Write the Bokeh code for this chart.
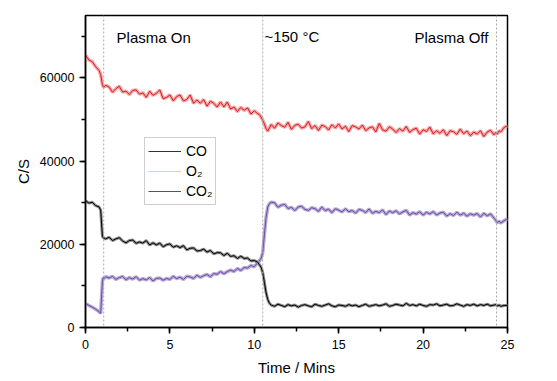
from bokeh.plotting import figure
from bokeh.models import (Range1d, SingleIntervalTicker, Span, Label, Legend,
                          LegendItem, ColumnDataSource)
from bokeh.embed import file_html
from bokeh.resources import INLINE

# ---------------- data ----------------
time_min = [0.0, 0.2, 0.4, 0.6, 0.8, 0.9, 1.0, 1.05, 1.1, 1.2,
            1.4, 1.6, 1.8, 2.0, 2.2, 2.4, 2.6, 2.8, 3.0, 3.2,
            3.4, 3.6, 3.8, 4.0, 4.2, 4.4, 4.6, 4.8, 5.0, 5.2,
            5.4, 5.6, 5.8, 6.0, 6.2, 6.4, 6.6, 6.8, 7.0, 7.2,
            7.4, 7.6, 7.8, 8.0, 8.2, 8.4, 8.6, 8.8, 9.0, 9.2,
            9.4, 9.6, 9.8, 10.0, 10.2,
            10.3, 10.4, 10.5, 10.6, 10.7, 10.8, 10.9, 11.0,
            11.2, 11.4, 11.6, 11.8, 12.0, 12.2, 12.4, 12.6, 12.8, 13.0,
            13.2, 13.4, 13.6, 13.8, 14.0, 14.2, 14.4, 14.6, 14.8, 15.0,
            15.2, 15.4, 15.6, 15.8, 16.0, 16.2, 16.4, 16.6, 16.8, 17.0,
            17.2, 17.4, 17.6, 17.8, 18.0, 18.2, 18.4, 18.6, 18.8, 19.0,
            19.2, 19.4, 19.6, 19.8, 20.0, 20.2, 20.4, 20.6, 20.8, 21.0,
            21.2, 21.4, 21.6, 21.8, 22.0, 22.2, 22.4, 22.6, 22.8, 23.0,
            23.2, 23.4, 23.6, 23.8, 24.0, 24.2,
            24.3, 24.4, 24.5, 24.6, 24.8, 25.0]

o2 = [65500, 64300, 63900, 62700, 61800, 60800, 58400, 57900, 57800, 58200,
      57800, 56550, 57400, 58000, 56600, 56800, 56000, 57000, 57100, 56100,
      56400, 55300, 56800, 55800, 56300, 57100, 55000, 55300, 55900, 54500,
      55500, 55900, 54500, 54800, 55900, 53900, 54700, 53900, 54800, 53200,
      54400, 53900, 53000, 54200, 53000, 54200, 52500, 53000, 51900, 52900,
      52200, 52800, 51300, 52100, 51400,
      51200, 50600, 49800, 48900, 47800, 47200, 48000, 48800,
      47900, 49180, 48560, 48140, 49320, 47600, 48590, 48870, 47950, 48230,
      49510, 47790, 48570, 47350, 48630, 48310, 47490, 48770, 47950, 48930,
      47710, 48390, 47070, 48550, 48230, 47700, 48660, 47320, 47980, 48240,
      47000, 49060, 47520, 47180, 48240, 47700, 46860, 47820, 47180, 48340,
      46900, 47560, 47920, 46480, 47540, 47100, 48170, 46540, 47310, 46680,
      47550, 46120, 47290, 47060, 46430, 47700, 46570, 47240, 46110, 46980,
      46500, 47300, 45900, 47000, 47400, 46300,
      46900, 46500, 47300, 47000, 48100, 48500]

co = [30500, 29900, 30100, 29300, 29000, 28200, 22000, 21600, 21500, 21300,
      21700, 20900, 21300, 21600, 20800, 20350, 20900, 21020, 20240, 20560,
      20280, 20900, 19820, 20340, 19860, 20280, 19400, 19900, 20100, 19300,
      19650, 19200, 19680, 18660, 19040, 19120, 18400, 18480, 18860, 18140,
      18520, 17700, 18000, 17950, 17300, 17850, 17100, 17250, 16600, 17150,
      16600, 16700, 16000, 16100, 15700,
      15100, 14500, 13200, 10800, 8300, 6700, 5800, 5400,
      5100, 5600, 5300, 5000, 5500, 5200, 5400, 4900, 5300, 5500,
      5200, 5000, 5600, 5300, 5100, 5400, 5700, 5200, 5000, 5400,
      5300, 5100, 5500, 5200, 5400, 5000, 5300, 5600, 5100, 5300,
      5500, 5200, 5400, 5700, 5100, 5300, 5600, 5400, 5200, 5800,
      5300, 5500, 5200, 5600, 5300, 5100, 5500, 5400, 5700, 5200,
      5400, 5600, 5200, 5300, 5700, 5400, 5100, 5500, 5300, 5600,
      5200, 5500, 5300, 5600, 5200, 5400,
      5500, 5200, 5400, 5100, 5300, 5300]

co2 = [5800, 5300, 4900, 4400, 3800, 3400, 11000, 12000, 11800, 12200,
       11900, 12300, 11550, 12000, 12250, 11500, 12000, 11650, 12200, 11400,
       11750, 11450, 12000, 11200, 11800, 11900, 11350, 11800, 11550, 12300,
       11750, 12100, 11550, 12300, 12150, 11800, 12550, 12050, 12450, 12750,
       12200, 12950, 12800, 13450, 12900, 13450, 13800, 13450, 14200, 13700,
       14400, 14300, 14900, 14600, 15600,
       16000, 16600, 18000, 22500, 26500, 29000, 29800, 30100,
       30000, 28900, 29400, 29600, 28600, 28900, 28100, 28980, 29150, 28400,
       28150, 28800, 28550, 27900, 28950, 28100, 28450, 27600, 28550, 28200,
       27780, 28560, 27840, 28120, 27500, 28380, 28150, 27620, 28490, 27460,
       27930, 27600, 28270, 27140, 28010, 27580, 28050, 27320, 27790, 28160,
       27030, 27600, 27270, 27840, 27010, 27700, 27280, 27860, 27040, 27520,
       27700, 26780, 27360, 26940, 27720, 27000, 27480, 26760, 27340, 27020,
       27400, 26580, 27460, 26840, 27320, 26300,
       25800, 25200, 25600, 25100, 25700, 26100]

event_times = [1.08, 10.5, 24.35]
legend_labels = ["CO", "O\u2082", "CO\u2082"]
x_ticks_interval = 5
y_ticks_interval = 20000

FONT = "Liberation Sans"

p = figure(frame_width=422, frame_height=312, output_backend="svg",
           toolbar_location=None,
           x_range=Range1d(0, 25), y_range=Range1d(0, 75000),
           min_border_left=85, min_border_right=30, min_border_top=15,
           min_border_bottom=10)
p.background_fill_color = "white"
p.border_fill_color = "white"
p.outline_line_color = "black"
p.outline_line_width = 1.5
p.grid.visible = False

src = ColumnDataSource(dict(t=time_min, o2=o2, co=co, co2=co2))

# legend sample renderers (styled like the original legend), hidden beneath the bands
r_co = p.line("t", "co", source=src, line_color="#333333", line_width=1)
r_o2 = p.line("t", "o2", source=src, line_color="#f2c8a8", line_width=1)
r_co2 = p.line("t", "co2", source=src, line_color="#555555", line_width=1)

# noisy band + core line for each series
p.line("t", "o2", source=src, line_color="#f4a6a6", line_width=3.5)
p.line("t", "o2", source=src, line_color="#d41f26", line_width=1)
p.line("t", "co2", source=src, line_color="#b8aad8", line_width=3.5)
p.line("t", "co2", source=src, line_color="#6a4ca2", line_width=1)
p.line("t", "co", source=src, line_color="#8c8c8c", line_width=3)
p.line("t", "co", source=src, line_color="#000000", line_width=1)

for tv in event_times:
    p.add_layout(Span(location=tv, dimension="height", line_color="#a8a8a8",
                      line_dash="2 2", line_width=1))

# axes
for ax in (p.xaxis[0], p.yaxis[0]):
    ax.axis_line_width = 1.5
    ax.major_tick_line_width = 1.5
    ax.minor_tick_line_width = 1.5
    ax.major_tick_out = 6
    ax.major_tick_in = 0
    ax.minor_tick_out = 4
    ax.minor_tick_in = 0
    ax.major_label_text_font = FONT
    ax.major_label_text_font_size = "12.5px"
    ax.major_label_text_color = "black"
    ax.axis_label_text_font = FONT
    ax.axis_label_text_font_size = "15px"
    ax.axis_label_text_font_style = "normal"
    ax.axis_label_text_color = "black"

p.xaxis.ticker = SingleIntervalTicker(interval=x_ticks_interval, num_minor_ticks=2)
p.yaxis.ticker = SingleIntervalTicker(interval=y_ticks_interval, num_minor_ticks=2)
p.xaxis.axis_label = "Time / Mins"
p.yaxis.axis_label = "C/S"
p.xaxis.major_label_standoff = 6
p.yaxis.major_label_standoff = 5
p.xaxis.axis_label_standoff = 7
p.yaxis.axis_label_standoff = 5

# annotations
p.add_layout(Label(x=1.84, y=69600, text="Plasma On", text_font=FONT,
                   text_font_size="15px", text_baseline="middle", text_color="black"))
p.add_layout(Label(x=10.6, y=69900, text="~150 \u00b0C", text_font=FONT,
                   text_font_size="15px", text_baseline="middle", text_color="black"))
p.add_layout(Label(x=23.87, y=69600, text="Plasma Off", text_font=FONT,
                   text_font_size="15px", text_baseline="middle", text_align="right",
                   text_color="black"))

legend = Legend(items=[LegendItem(label=legend_labels[0], renderers=[r_co]),
                       LegendItem(label=legend_labels[1], renderers=[r_o2]),
                       LegendItem(label=legend_labels[2], renderers=[r_co2])],
                location=(59, 122), margin=0, padding=3, spacing=0,
                glyph_width=33, glyph_height=20, label_height=20, label_standoff=5,
                border_line_color="#a0a0a0", border_line_width=1,
                background_fill_color="white", background_fill_alpha=1,
                label_text_font=FONT, label_text_font_size="14px",
                label_text_color="black")
p.add_layout(legend)

open("out.html", "w").write(file_html(p, INLINE))
